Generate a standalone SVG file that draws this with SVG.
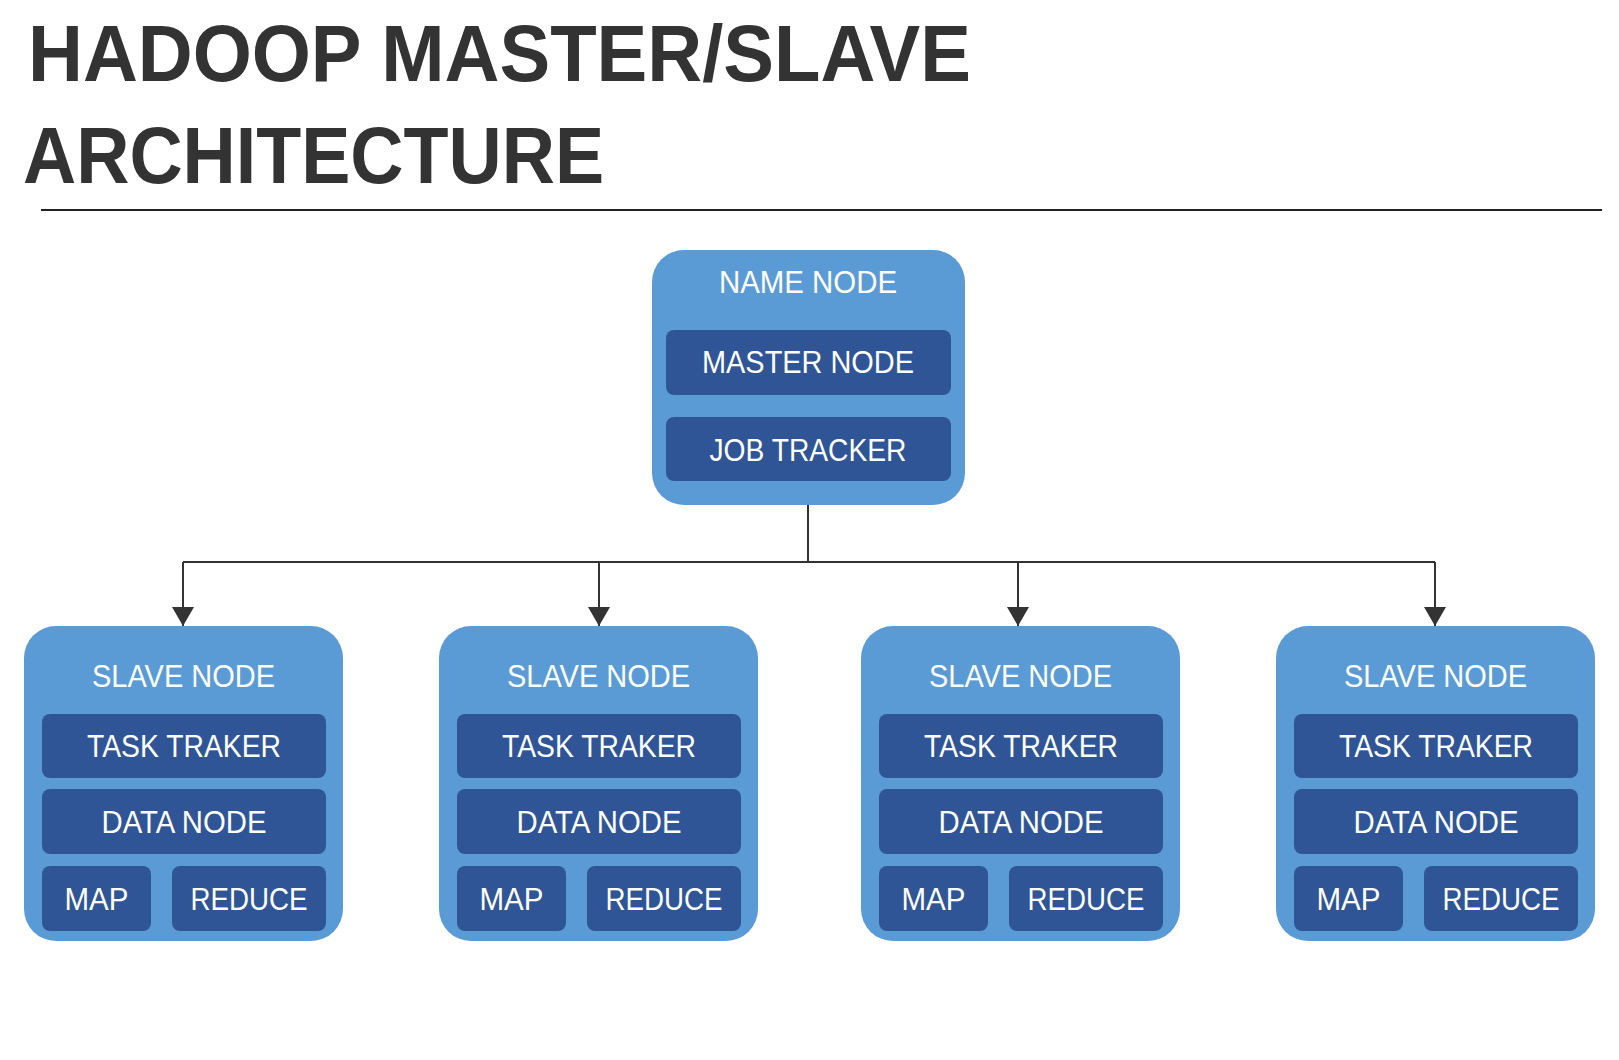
<svg xmlns="http://www.w3.org/2000/svg" width="1619" height="1060" viewBox="0 0 1619 1060">
<style>
.outer{fill:#5B9BD5}
.inner{fill:#2F5597}
.lbl{font-family:"Liberation Sans",Arial,sans-serif;font-size:31px;fill:#fff;text-anchor:middle}
.title{font-family:"Liberation Sans",Arial,sans-serif;font-weight:bold;font-size:80px;fill:#333}
.conn{fill:none;stroke:#333;stroke-width:2}
</style>
<defs>
<marker id="arr" markerWidth="22" markerHeight="20" refX="11" refY="19" orient="0" markerUnits="userSpaceOnUse">
<path d="M0,0 L22,0 L11,19 Z" fill="#333"/>
</marker>
<g id="slaveTpl">
<rect class="outer" x="0" y="0" width="319" height="315" rx="32"/>
<text class="lbl" x="159.5" y="61" textLength="183" lengthAdjust="spacingAndGlyphs">SLAVE NODE</text>
<rect class="inner" x="18" y="88" width="284" height="64" rx="8"/>
<text class="lbl" x="160" y="131" textLength="194" lengthAdjust="spacingAndGlyphs">TASK TRAKER</text>
<rect class="inner" x="18" y="163" width="284" height="65" rx="8"/>
<text class="lbl" x="160" y="207" textLength="165" lengthAdjust="spacingAndGlyphs">DATA NODE</text>
<rect class="inner" x="18" y="240" width="109" height="65" rx="8"/>
<text class="lbl" x="72.5" y="284" textLength="64" lengthAdjust="spacingAndGlyphs">MAP</text>
<rect class="inner" x="148" y="240" width="154" height="65" rx="8"/>
<text class="lbl" x="225" y="284" textLength="117" lengthAdjust="spacingAndGlyphs">REDUCE</text>
</g>
</defs>
<g id="title">
<text class="title" x="28" y="81" textLength="943" lengthAdjust="spacingAndGlyphs">HADOOP MASTER/SLAVE</text>
<text class="title" x="23" y="183" textLength="581" lengthAdjust="spacingAndGlyphs">ARCHITECTURE</text>
<line x1="41" y1="210" x2="1602" y2="210" stroke="#222" stroke-width="2"/>
</g>
<g id="connectors">
<path class="conn" d="M808,505 L808,562"/>
<path class="conn" d="M183,562 L1435,562"/>
<path class="conn" d="M183,562 L183,626" marker-end="url(#arr)"/>
<path class="conn" d="M599,562 L599,626" marker-end="url(#arr)"/>
<path class="conn" d="M1018,562 L1018,626" marker-end="url(#arr)"/>
<path class="conn" d="M1435,562 L1435,626" marker-end="url(#arr)"/>
</g>
<g id="name-node">
<rect class="outer" x="652" y="250" width="313" height="255" rx="32"/>
<text class="lbl" x="808" y="293" textLength="178" lengthAdjust="spacingAndGlyphs">NAME NODE</text>
<g id="master-node">
<rect class="inner" x="666" y="330" width="285" height="65" rx="8"/>
<text class="lbl" x="808" y="373" textLength="212" lengthAdjust="spacingAndGlyphs">MASTER NODE</text>
</g>
<g id="job-tracker">
<rect class="inner" x="666" y="417" width="285" height="64" rx="8"/>
<text class="lbl" x="808" y="461" textLength="197" lengthAdjust="spacingAndGlyphs">JOB TRACKER</text>
</g>
</g>
<g id="slave-node-1"><use href="#slaveTpl" x="24" y="626"/></g>
<g id="slave-node-2"><use href="#slaveTpl" x="439" y="626"/></g>
<g id="slave-node-3"><use href="#slaveTpl" x="861" y="626"/></g>
<g id="slave-node-4"><use href="#slaveTpl" x="1276" y="626"/></g>
</svg>
